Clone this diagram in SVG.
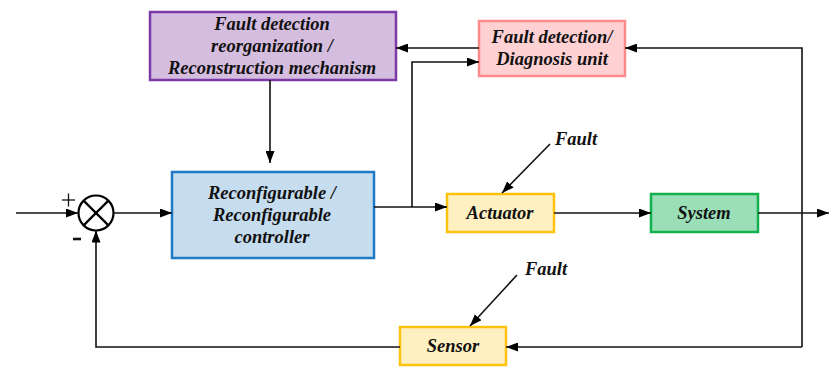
<svg xmlns="http://www.w3.org/2000/svg" width="829" height="367" viewBox="0 0 829 367">
  <defs>
    <marker id="arr" viewBox="0 0 12 9" refX="12" refY="4.5" markerWidth="12" markerHeight="9" markerUnits="userSpaceOnUse" orient="auto">
      <path d="M0,0 L12,4.5 L0,9 Z" fill="#000"/>
    </marker>
    <style>
      .lbl { font-family: "Liberation Serif", "Times New Roman", serif; font-weight: bold; font-style: italic; font-size: 18.5px; fill: #111; text-anchor: middle; }
      .sign { font-family: "Liberation Sans", "DejaVu Sans", sans-serif; fill: #111; text-anchor: middle; }
      .box { stroke-width: 2.5; }
      .line { fill: none; stroke: #111; stroke-width: 1.6; }
      .arrow { marker-end: url(#arr); }
    </style>
  </defs>
  <rect width="829" height="367" fill="#fff"/>

  <g id="reconstruction">
    <rect class="box" x="150" y="12" width="246" height="68" fill="#d5bde0" stroke="#7a3aa8"/>
    <text class="lbl" x="272" y="30">Fault detection</text>
    <text class="lbl" x="272" y="52">reorganization /</text>
    <text class="lbl" x="272" y="74">Reconstruction mechanism</text>
  </g>

  <g id="diagnosis">
    <rect class="box" x="479" y="21" width="146" height="55" fill="#ffd1d3" stroke="#ff8a8a"/>
    <text class="lbl" x="552" y="43">Fault detection/</text>
    <text class="lbl" x="552" y="65">Diagnosis unit</text>
  </g>

  <g id="controller">
    <rect class="box" x="172" y="172" width="202" height="86" fill="#c6dcef" stroke="#1f7ac6"/>
    <text class="lbl" x="272" y="199">Reconfigurable /</text>
    <text class="lbl" x="272" y="221">Reconfigurable</text>
    <text class="lbl" x="272" y="243">controller</text>
  </g>

  <g id="actuator">
    <rect class="box" x="447" y="194" width="107" height="38" fill="#fff0c2" stroke="#ffc20e"/>
    <text class="lbl" x="500" y="219">Actuator</text>
  </g>

  <g id="system">
    <rect class="box" x="651" y="194" width="107" height="38" fill="#9adfb8" stroke="#12b04e"/>
    <text class="lbl" x="704" y="219">System</text>
  </g>

  <g id="sensor">
    <rect class="box" x="400" y="327" width="106" height="38" fill="#fff0c2" stroke="#ffc20e"/>
    <text class="lbl" x="453" y="352">Sensor</text>
  </g>

  <g id="summing-junction">
    <circle cx="96" cy="213" r="17.5" fill="#fff" stroke="#000" stroke-width="2.2"/>
    <line x1="83.6" y1="200.6" x2="108.4" y2="225.4" stroke="#000" stroke-width="2.2"/>
    <line x1="108.4" y1="200.6" x2="83.6" y2="225.4" stroke="#000" stroke-width="2.2"/>
    <!-- plus sign drawn with thin strokes -->
    <line x1="62" y1="200" x2="75" y2="200" stroke="#111" stroke-width="1.3"/>
    <line x1="68.5" y1="193.5" x2="68.5" y2="206.5" stroke="#111" stroke-width="1.3"/>
    <line x1="73" y1="239" x2="81" y2="239" stroke="#111" stroke-width="2.6"/>
  </g>

  <g id="fault-labels">
    <text class="lbl" x="576" y="145">Fault</text>
    <text class="lbl" x="546" y="275">Fault</text>
  </g>

  <g id="connectors">
    <!-- reference input into the summing junction -->
    <line class="line arrow" x1="16" y1="213" x2="78" y2="213"/>
    <!-- junction to controller -->
    <line class="line arrow" x1="113.5" y1="213" x2="172" y2="213"/>
    <!-- reconstruction mechanism down to controller -->
    <line class="line arrow" x1="270" y1="80" x2="270" y2="163"/>
    <!-- controller output to actuator, branching up to diagnosis unit -->
    <line class="line arrow" x1="374" y1="207" x2="447" y2="207"/>
    <polyline class="line arrow" points="412,207 412,62 479,62"/>
    <!-- diagnosis unit to reconstruction mechanism -->
    <line class="line arrow" x1="479" y1="48" x2="396" y2="48"/>
    <!-- actuator to system -->
    <line class="line arrow" x1="554" y1="213" x2="651" y2="213"/>
    <!-- system output -->
    <line class="line arrow" x1="758" y1="213" x2="829" y2="213"/>
    <!-- measured output to diagnosis unit and sensor -->
    <polyline class="line arrow" points="802,347 802,48 625,48"/>
    <line class="line arrow" x1="802" y1="347" x2="506" y2="347"/>
    <!-- sensor back to the junction (negative feedback) -->
    <polyline class="line arrow" points="400,347 96,347 96,230.5"/>
    <!-- fault injections -->
    <line class="line arrow" x1="550" y1="144" x2="502" y2="193"/>
    <line class="line arrow" x1="517" y1="275" x2="470" y2="326"/>
  </g>
</svg>
